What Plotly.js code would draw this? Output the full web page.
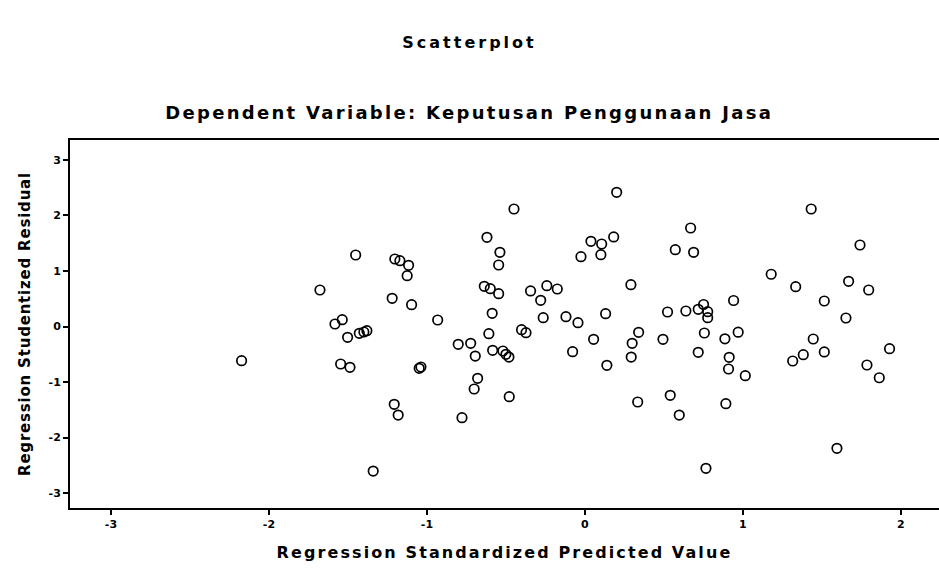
<!DOCTYPE html>
<html>
<head>
<meta charset="utf-8">
<script src="https://cdn.plot.ly/plotly-3.0.1.min.js"></script>
<style>
  html, body { margin: 0; padding: 0; background: #fff; }
  #chart { width: 939px; height: 569px; }
  #chart .gtitle { letter-spacing: 3px; }
  #chart .annotation-text { letter-spacing: 2.3px; }
  #chart .xtitle { letter-spacing: 2.1px; }
  #chart .ytitle { letter-spacing: 0.8px; }
</style>
</head>
<body>
<div id="chart"></div>
<script>
// Regression Standardized Predicted Value
var predicted = [
  -2.173, -1.677, -1.582, -1.536, -1.502, -1.546, -1.487, -1.451, -1.428, -1.399,
  -1.380, -1.340, -1.220, -1.203, -1.171, -1.116, -1.125, -1.097, -1.207, -1.182,
  -1.049, -1.038, -0.932, -0.802, -0.723, -0.694, -0.679, -0.701, -0.778, -0.449,
  -0.620, -0.538, -0.546, -0.637, -0.599, -0.546, -0.587, -0.608, -0.584, -0.519,
  -0.500, -0.481, -0.479, -0.344, -0.241, -0.175, -0.280, -0.264, -0.120, -0.044,
  -0.401, -0.373, -0.078, 0.055, 0.201, 0.038, 0.106, 0.182, -0.025, 0.101,
  0.131, 0.291, 0.340, 0.299, 0.293, 0.139, 0.334, 0.494, 0.523, 0.669,
  0.572, 0.688, 0.639, 0.717, 0.751, 0.777, 0.777, 0.756, 0.886, 0.970,
  0.717, 0.913, 0.909, 1.015, 0.540, 0.597, 0.892, 0.766, 0.941, 1.179,
  1.334, 1.432, 1.741, 1.669, 1.796, 1.515, 1.652, 1.445, 1.315, 1.382,
  1.515, 1.928, 1.785, 1.863, 1.595
];
// Regression Studentized Residual
var residual = [
  -0.616, 0.658, 0.045, 0.123, -0.195, -0.676, -0.735, 1.288, -0.123, -0.099,
  -0.076, -2.604, 0.508, 1.216, 1.186, 1.103, 0.915, 0.393, -1.402, -1.595,
  -0.753, -0.730, 0.117, -0.321, -0.303, -0.532, -0.933, -1.126, -1.643, 2.117,
  1.607, 1.337, 1.108, 0.724, 0.681, 0.591, 0.238, -0.130, -0.429, -0.441,
  -0.501, -0.550, -1.265, 0.640, 0.735, 0.676, 0.472, 0.159, 0.177, 0.068,
  -0.058, -0.112, -0.454, -0.231, 2.418, 1.535, 1.486, 1.613, 1.258, 1.294,
  0.231, 0.753, -0.105, -0.303, -0.550, -0.699, -1.360, -0.231, 0.261, 1.775,
  1.384, 1.337, 0.279, 0.310, 0.396, 0.267, 0.159, -0.117, -0.222, -0.103,
  -0.465, -0.555, -0.766, -0.886, -1.240, -1.595, -1.391, -2.555, 0.468, 0.941,
  0.717, 2.117, 1.468, 0.814, 0.658, 0.459, 0.153, -0.225, -0.622, -0.508,
  -0.459, -0.400, -0.694, -0.923, -2.195
];
var xTickVals = [-3, -2, -1, 0, 1, 2];
var xTickText = ["-3", "-2", "-1", "0", "1", "2"];
var yTickVals = [-3, -2, -1, 0, 1, 2, 3];
var yTickText = ["-3", "-2", "-1", "0", "1", "2", "3"];

var FONT = "DejaVu Sans, Liberation Sans, Arial, sans-serif";

var trace = {
  x: predicted,
  y: residual,
  type: "scatter",
  mode: "markers",
  marker: {
    symbol: "circle-open",
    size: 9.5,
    color: "#000",
    line: { color: "#000", width: 1.7 }
  },
  hoverinfo: "x+y"
};

var layout = {
  width: 939,
  height: 569,
  paper_bgcolor: "#fff",
  plot_bgcolor: "#fff",
  margin: { l: 70, r: 0, t: 140, b: 61 },
  showlegend: false,
  title: {
    text: "<b>Scatterplot</b>",
    x: 0.5, xref: "container", xanchor: "center",
    y: 1 - 42 / 569, yref: "container", yanchor: "middle",
    font: { family: FONT, size: 16, color: "#000" }
  },
  annotations: [{
    text: "<b>Dependent Variable: Keputusan Penggunaan Jasa</b>",
    xref: "paper", yref: "paper",
    x: (469 - 70) / 869, y: 1 + (140 - 113) / 368,
    xanchor: "center", yanchor: "middle",
    showarrow: false,
    font: { family: FONT, size: 18, color: "#000" }
  }],
  xaxis: {
    range: [-3.259, 2.241],
    tickvals: xTickVals,
    ticktext: xTickText,
    ticks: "outside",
    ticklen: 5,
    tickwidth: 2,
    tickcolor: "#000",
    showgrid: false,
    zeroline: false,
    showline: true,
    linecolor: "#000",
    linewidth: 2,
    mirror: true,
    tickfont: { family: FONT, size: 11, color: "#000", weight: "bold" },
    title: {
      text: "<b>Regression Standardized Predicted Value</b>",
      font: { family: FONT, size: 16, color: "#000" },
      standoff: 17
    }
  },
  yaxis: {
    range: [-3.270, 3.360],
    tickvals: yTickVals,
    ticktext: yTickText,
    ticks: "outside",
    ticklen: 5,
    tickwidth: 2,
    tickcolor: "#000",
    showgrid: false,
    zeroline: false,
    showline: true,
    linecolor: "#000",
    linewidth: 2,
    mirror: true,
    tickfont: { family: FONT, size: 11, color: "#000", weight: "bold" },
    title: {
      text: "<b>Regression Studentized Residual</b>",
      font: { family: FONT, size: 15, color: "#000" },
      standoff: 14
    }
  }
};

Plotly.newPlot("chart", [trace], layout, { displayModeBar: false, staticPlot: true });
</script>
</body>
</html>
